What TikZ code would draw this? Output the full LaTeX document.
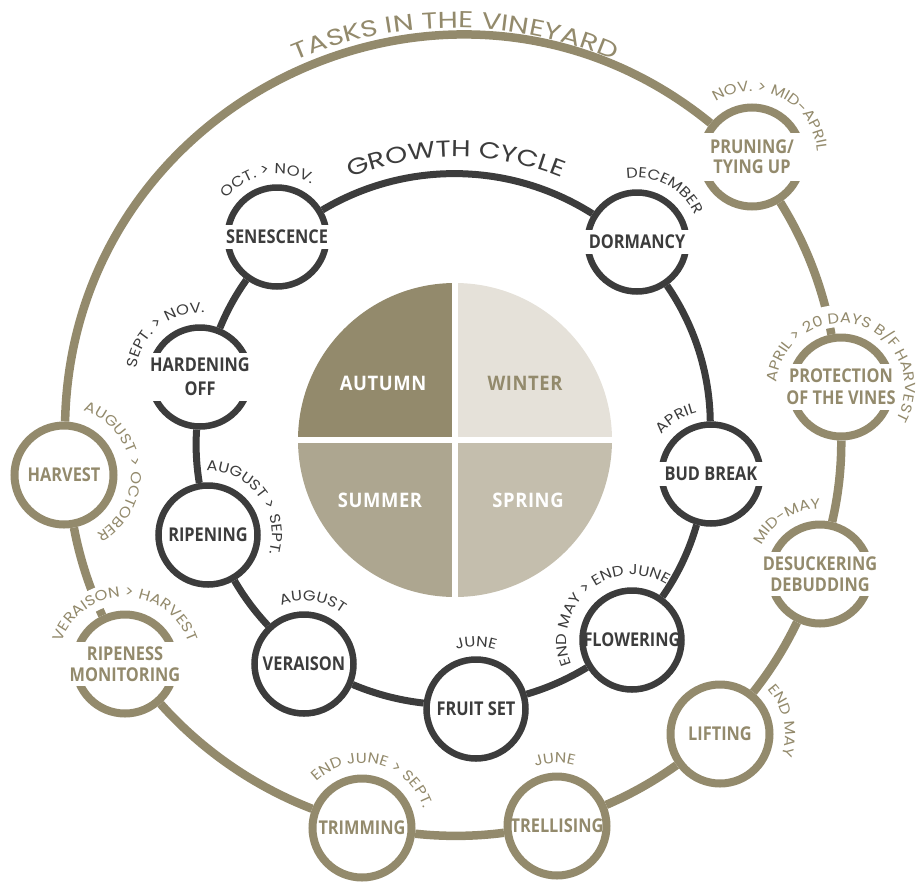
\documentclass[tikz,border=0pt]{standalone}
\usepackage{fontspec}
\setmainfont{Open Sans}
\newfontfamily\nodefont[FakeStretch=0.86]{Open Sans}
\newfontfamily\seasonfont[FakeStretch=0.92,LetterSpace=3]{Open Sans}
\newfontfamily\lblfont[FakeStretch=1.13]{Poppins}
\newfontfamily\ttlfont[FakeStretch=1.22]{Poppins}
\newfontfamily\ttlfontb[FakeStretch=1.27]{Poppins}
\usetikzlibrary{decorations.text}
\definecolor{taupe}{HTML}{938A6C}
\definecolor{dark}{HTML}{3C3C3C}
\definecolor{winterc}{HTML}{E5E1D9}
\definecolor{summerc}{HTML}{ADA690}
\definecolor{springc}{HTML}{C4BEAD}
\pgfdeclarelayer{bg}
\pgfsetlayers{bg,main}
\newcommand\ilbl{\lblfont\fontsize{14.5}{14.5}\selectfont\color{dark}}
\newcommand\olbl{\lblfont\fontsize{14.5}{14.5}\selectfont\color{taupe}}
\newcommand\arctext[5]{%
  \path[decorate,decoration={text along path,text align=center,text={|#4|#5}}]
    (#1) ++(#3+170:#2) arc[start angle=#3+170, end angle=#3-170, radius=#2];}
\newcommand\titletext[5]{%
  \path[decorate,decoration={text along path,text align=center,text={|#4|#5}}]
    (#1) ++(#3+60:#2) arc[start angle=#3+60, end angle=#3-60, radius=#2];}
\tikzset{
  x=1pt, y=1pt,
  inode/.style={circle, draw=dark, line width=6.5pt, fill=white, minimum size=99pt, inner sep=0pt},
  onode/.style={circle, draw=taupe, line width=8pt, fill=white, minimum size=99pt, inner sep=0pt},
  itxt/.style={text=dark, font=\nodefont\bfseries\fontsize{19}{22}\selectfont, align=center, inner sep=0pt},
  iband/.style={itxt, fill=white, minimum width=114pt, inner ysep=5pt},
  otxt/.style={itxt, text=taupe},
  oband/.style={otxt, fill=white, minimum width=114pt, inner ysep=5pt},
  iring/.style={draw=dark, line width=7pt},
  oring/.style={draw=taupe, line width=8.5pt},
  season/.style={font=\seasonfont\bfseries\fontsize{20}{20}\selectfont, inner sep=0pt},
  knock/.style={draw=white, line width=22pt},
}
\begin{document}
\begin{tikzpicture}
\useasboundingbox (0,0) rectangle (919,-884);
\coordinate (pc) at (455,-440);
\coordinate (gc) at (456,-437);
\coordinate (tc) at (455,-434);

% inner growth-cycle nodes
\node[inode] (sen) at (277,-237) {};
\node[iband] (sent) at (sen) {SENESCENCE};
\node[inode] (dor) at (637,-242) {};
\node[iband] (dort) at (dor) {DORMANCY};
\node[inode] (bud) at (711,-474) {};
\node[iband] (budt) at (bud) {BUD BREAK};
\node[inode] (flo) at (632,-640) {};
\node[itxt] (flot) at (flo) {FLOWERING};
\node[inode] (fru) at (476,-709) {};
\node[itxt] (frut) at (fru) {FRUIT SET};
\node[inode] (ver) at (304,-664) {};
\node[itxt] (vert) at (ver) {VERAISON};
\node[inode] (rip) at (208,-535) {};
\node[itxt] (ript) at (rip) {RIPENING};
\node[inode] (har) at (200,-377) {};
\node[iband] (hart) at (har) {HARDENING\\[2pt]OFF};

% outer vineyard-task nodes
\node[onode] (harv) at (64,-475) {};
\node[otxt] (harvt) at (harv) {HARVEST};
\node[onode] (prun) at (752,-157) {};
\node[oband, inner ysep=7pt] (prunt) at (prun) {PRUNING/\\[-2pt]TYING UP};
\node[onode] (prot) at (841,-387) {};
\node[oband] (prott) at (prot) {PROTECTION\\OF THE VINES};
\node[onode] (desu) at (820,-574) {};
\node[oband] (desut) at (desu) {DESUCKERING\\[-1pt]DEBUDDING};
\node[onode] (lift) at (720,-734) {};
\node[otxt] (liftt) at (lift) {LIFTING};
\node[onode] (trel) at (557,-826) {};
\node[otxt] (trelt) at (trel) {TRELLISING};
\node[onode] (trim) at (362,-828) {};
\node[otxt] (trimt) at (trim) {TRIMMING};
\node[onode] (ripe) at (125,-664) {};
\node[oband] (ripet) at (ripe) {RIPENESS\\[-1pt]MONITORING};

\begin{pgfonlayer}{bg}
  % seasons
  \fill[taupe] (pc) -- ++(180:157) arc[start angle=180,end angle=90,radius=157] -- cycle;
  \fill[winterc] (pc) -- ++(90:157) arc[start angle=90,end angle=0,radius=157] -- cycle;
  \fill[springc] (pc) -- ++(0:157) arc[start angle=0,end angle=-90,radius=157] -- cycle;
  \fill[summerc] (pc) -- ++(-90:157) arc[start angle=-90,end angle=-180,radius=157] -- cycle;
  \draw[white, line width=5.5pt] ([xshift=-160pt]pc) -- ([xshift=160pt]pc);
  \draw[white, line width=5.5pt] ([yshift=-160pt]pc) -- ([yshift=160pt]pc);
  % growth cycle ring
  \draw[iring] (sen) to[bend left=31.6, looseness=0.92] (dor);
  \draw[iring] (dor) to[bend left=16.9, looseness=0.87] (bud);
  \draw[iring] (bud) to[bend left=9.6, looseness=0.86] (flo);
  \draw[iring] (flo) to[bend left=7.5, looseness=0.86] (fru);
  \draw[iring] (fru) to[bend left=8.2, looseness=0.86] (ver);
  \draw[iring] (ver) to[bend left=6.5, looseness=0.86] (rip);
  \draw[iring] (rip) to[bend left=6.6, looseness=0.86] (har);
  \draw[iring] (har) to[bend left=6.7, looseness=0.86] (sen);
  % vineyard tasks ring
  \draw[oring] (harv) to[bend left=64, looseness=1.18] (prun);
  \draw[oring] (prun) to[bend left=10.8, looseness=0.86] (prot);
  \draw[oring] (prot) to[bend left=6.7, looseness=0.86] (desu);
  \draw[oring] (desu) to[bend left=6.5, looseness=0.86] (lift);
  \draw[oring] (lift) to[bend left=6.2, looseness=0.86] (trel);
  \draw[oring] (trel) to[bend left=6.7, looseness=0.86] (trim);
  \draw[oring] (trim) to[bend left=13.6, looseness=0.86] (ripe);
  \draw[oring] (ripe) to[bend left=7.2, looseness=0.86] (harv);
  % knock-outs under curved labels
  \draw[knock] (ripe) ++(167:71) arc[start angle=167, end angle=13, radius=71];
  \draw[knock] (prot) ++(180:71) arc[start angle=180, end angle=-33, radius=71];
\end{pgfonlayer}

% season labels
\node[season, text=white] (autumn) at (383,-383) {AUTUMN};
\node[season, text=taupe] (winter) at (525,-383) {WINTER};
\node[season, text=white] (summer) at (380,-500) {SUMMER};
\node[season, text=white] (spring) at (528,-500) {SPRING};

% titles
\titletext{gc}{280}{90}{\ttlfont\fontsize{23}{23}\selectfont\color{dark}}{GROWTH CYCLE}
\titletext{tc}{406}{90}{\ttlfontb\fontsize{23}{23}\selectfont\color{taupe}}{TASKS IN THE VINEYARD}

% inner date labels
\arctext{sen}{63}{100}{\ilbl}{OCT. > NOV.}
\arctext{dor}{64}{62}{\ilbl}{DECEMBER}
\arctext{bud}{63}{122}{\ilbl}{APRIL}
\arctext{flo}{65}{130}{\ilbl}{END MAY > END JUNE}
\arctext{fru}{62}{90}{\ilbl}{JUNE}
\arctext{ver}{63}{82}{\ilbl}{AUGUST}
\arctext{rip}{64}{37}{\ilbl}{AUGUST > SEPT.}
\arctext{har}{64}{129}{\ilbl}{SEPT. > NOV.}

% outer date labels
\arctext{harv}{67}{6}{\olbl}{AUGUST > OCTOBER}
\arctext{ripe}{67}{90}{\olbl}{VERAISON > HARVEST}
\arctext{trim}{65}{76}{\olbl}{END JUNE > SEPT.}
\arctext{trel}{63}{92}{\olbl}{JUNE}
\arctext{lift}{65}{12}{\olbl}{END MAY}
\arctext{desu}{65}{122}{\olbl}{MID-MAY}
\arctext{prot}{64}{73}{\olbl}{APRIL > 20 DAYS B/F HARVEST}
\arctext{prun}{66}{64}{\olbl}{NOV. > MID-APRIL}
\end{tikzpicture}
\end{document}
